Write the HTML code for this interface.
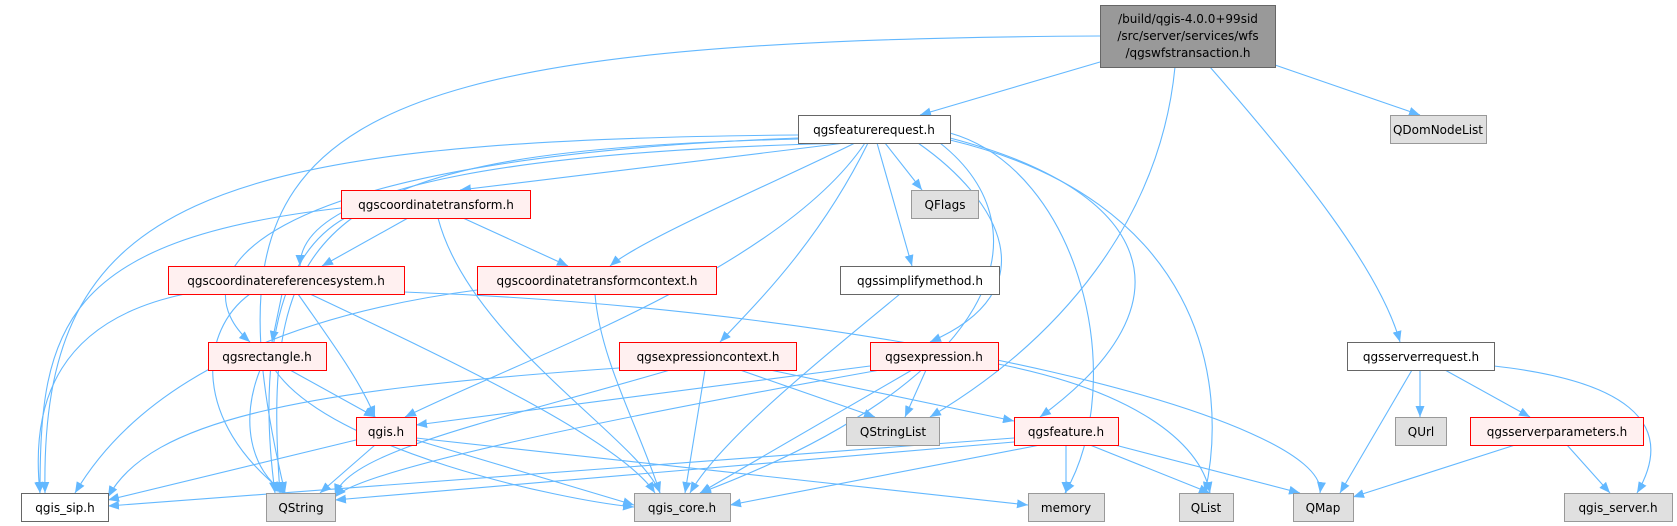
<!DOCTYPE html>
<html><head><meta charset="utf-8"><style>
body{margin:0;background:#fff;width:1677px;height:526px;overflow:hidden}
svg{display:block}
text{font-family:"DejaVu Sans","Liberation Sans",sans-serif;font-size:12px;fill:#000}
.e{fill:none;stroke:#63b8ff;stroke-width:1.1;marker-end:url(#a)}
.w{fill:#fff;stroke:#666}
.g{fill:#e0e0e0;stroke:#999}
.r{fill:#fff0f0;stroke:#f00}
</style></head><body>
<svg width="1677" height="526" viewBox="0 0 1677 526">
<defs><marker id="a" viewBox="0 0 10 10" refX="10" refY="5" markerWidth="11" markerHeight="9" orient="auto" markerUnits="userSpaceOnUse" preserveAspectRatio="none"><path d="M0,0L10,5L0,10z" fill="#63b8ff"/></marker></defs>
<g>
<path class="e" d="M1100,36 C300,40 200,130 285,493"/>
<path class="e" d="M1100,62 L920,115"/>
<path class="e" d="M1175,67 C1160,220 1060,340 930,417"/>
<path class="e" d="M1210,67 C1300,170 1380,270 1400,342"/>
<path class="e" d="M1275,65 L1420,115"/>
<path class="e" d="M798,135 C200,140 40,200 45,493"/>
<path class="e" d="M800,139 C320,150 260,220 280,493"/>
<path class="e" d="M845,143 L460,190"/>
<path class="e" d="M850,143 C550,150 300,180 300,266"/>
<path class="e" d="M798,138 C230,160 180,280 250,342"/>
<path class="e" d="M855,143 C780,180 640,240 610,266"/>
<path class="e" d="M865,143 C780,270 520,360 405,417"/>
<path class="e" d="M868,143 C820,240 760,300 720,342"/>
<path class="e" d="M885,143 L922,190"/>
<path class="e" d="M877,143 L912,266"/>
<path class="e" d="M918,143 C1000,200 1050,290 930,342"/>
<path class="e" d="M940,143 C1050,230 1000,380 700,493"/>
<path class="e" d="M950,138 C1150,190 1200,300 1040,417"/>
<path class="e" d="M950,133 C1080,170 1130,380 1065,493"/>
<path class="e" d="M950,140 C1200,200 1230,380 1205,493"/>
<path class="e" d="M341,208 C60,240 40,330 40,493"/>
<path class="e" d="M345,218 C270,260 260,380 275,493"/>
<path class="e" d="M408,218 L322,266"/>
<path class="e" d="M463,218 L568,266"/>
<path class="e" d="M438,218 C470,340 640,440 660,493"/>
<path class="e" d="M185,294 C60,320 30,400 40,493"/>
<path class="e" d="M282,294 L272,342"/>
<path class="e" d="M250,294 C200,330 190,420 285,493"/>
<path class="e" d="M298,294 C330,340 360,380 375,417"/>
<path class="e" d="M310,294 C450,360 620,440 655,493"/>
<path class="e" d="M404,292 C900,310 1330,420 1320,493"/>
<path class="e" d="M595,294 C600,360 640,430 660,493"/>
<path class="e" d="M477,290 C250,320 130,400 75,493"/>
<path class="e" d="M900,294 C820,360 720,440 690,493"/>
<path class="e" d="M290,370 L375,417"/>
<path class="e" d="M260,370 C240,420 250,470 285,493"/>
<path class="e" d="M275,370 C330,450 560,500 634,507"/>
<path class="e" d="M619,368 C300,390 150,420 108,497"/>
<path class="e" d="M670,370 C500,420 350,450 335,495"/>
<path class="e" d="M705,370 L685,493"/>
<path class="e" d="M740,370 L875,417"/>
<path class="e" d="M770,370 L1014,421"/>
<path class="e" d="M870,366 L416,425"/>
<path class="e" d="M880,370 C600,420 360,470 335,497"/>
<path class="e" d="M912,370 L700,493"/>
<path class="e" d="M926,370 L905,417"/>
<path class="e" d="M998,364 C1130,390 1200,440 1210,493"/>
<path class="e" d="M356,440 L108,500"/>
<path class="e" d="M375,445 L320,493"/>
<path class="e" d="M416,440 L634,505"/>
<path class="e" d="M416,438 L1028,505"/>
<path class="e" d="M1014,438 L108,506"/>
<path class="e" d="M1014,442 L335,500"/>
<path class="e" d="M1040,445 L730,505"/>
<path class="e" d="M1066,445 L1066,493"/>
<path class="e" d="M1090,445 L1210,493"/>
<path class="e" d="M1115,445 L1300,493"/>
<path class="e" d="M1412,370 L1340,493"/>
<path class="e" d="M1420,370 L1420,417"/>
<path class="e" d="M1445,370 L1530,417"/>
<path class="e" d="M1494,366 C1620,380 1680,420 1637,493"/>
<path class="e" d="M1515,445 L1353,497"/>
<path class="e" d="M1567,445 L1610,493"/>
</g>
<rect x="1100.5" y="5.5" width="175" height="62" fill="#999" stroke="#666"/>
<g text-anchor="middle">
<text x="1188" y="23">/build/qgis-4.0.0+99sid</text>
<text x="1188" y="40">/src/server/services/wfs</text>
<text x="1188" y="57">/qgswfstransaction.h</text>
<rect class="w" x="798.5" y="115.5" width="152" height="28"/><text x="874" y="134">qgsfeaturerequest.h</text>
<rect class="g" x="1390.5" y="115.5" width="96" height="28"/><text x="1438" y="134">QDomNodeList</text>
<rect class="r" x="341.5" y="190.5" width="189" height="28"/><text x="436" y="209">qgscoordinatetransform.h</text>
<rect class="g" x="911.5" y="190.5" width="67" height="28"/><text x="945" y="209">QFlags</text>
<rect class="r" x="168.5" y="266.5" width="236" height="28"/><text x="286" y="285">qgscoordinatereferencesystem.h</text>
<rect class="r" x="477.5" y="266.5" width="239" height="28"/><text x="597" y="285">qgscoordinatetransformcontext.h</text>
<rect class="w" x="840.5" y="266.5" width="159" height="28"/><text x="920" y="285">qgssimplifymethod.h</text>
<rect class="r" x="208.5" y="342.5" width="118" height="28"/><text x="267" y="361">qgsrectangle.h</text>
<rect class="r" x="619.5" y="342.5" width="177" height="28"/><text x="708" y="361">qgsexpressioncontext.h</text>
<rect class="r" x="870.5" y="342.5" width="128" height="28"/><text x="934" y="361">qgsexpression.h</text>
<rect class="w" x="1347.5" y="342.5" width="147" height="28"/><text x="1421" y="361">qgsserverrequest.h</text>
<rect class="r" x="356.5" y="417.5" width="60" height="28"/><text x="386" y="436">qgis.h</text>
<rect class="g" x="846.5" y="417.5" width="93" height="28"/><text x="893" y="436">QStringList</text>
<rect class="r" x="1014.5" y="417.5" width="104" height="28"/><text x="1066" y="436">qgsfeature.h</text>
<rect class="g" x="1395.5" y="417.5" width="51" height="28"/><text x="1421" y="436">QUrl</text>
<rect class="r" x="1470.5" y="417.5" width="173" height="28"/><text x="1557" y="436">qgsserverparameters.h</text>
<rect class="w" x="21.5" y="493.5" width="87" height="28"/><text x="65" y="512">qgis_sip.h</text>
<rect class="g" x="266.5" y="493.5" width="69" height="28"/><text x="301" y="512">QString</text>
<rect class="g" x="634.5" y="493.5" width="96" height="28"/><text x="682" y="512">qgis_core.h</text>
<rect class="g" x="1028.5" y="493.5" width="76" height="28"/><text x="1066" y="512">memory</text>
<rect class="g" x="1179.5" y="493.5" width="54" height="28"/><text x="1206" y="512">QList</text>
<rect class="g" x="1293.5" y="493.5" width="60" height="28"/><text x="1323" y="512">QMap</text>
<rect class="g" x="1564.5" y="493.5" width="108" height="28"/><text x="1618" y="512">qgis_server.h</text>
</g>
</svg>
</body></html>
